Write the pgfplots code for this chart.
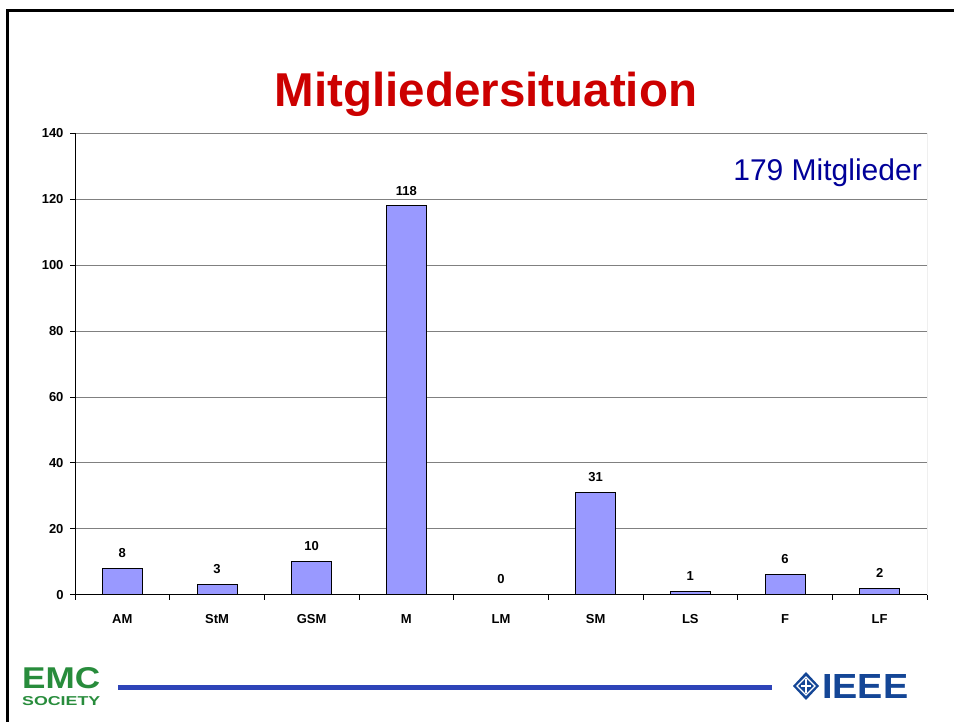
\documentclass[border=0pt]{standalone}
\usepackage{fontspec}
\setmainfont{Liberation Sans}
\usepackage{graphicx}
\usepackage{pgfplots}
\pgfplotsset{compat=1.18}
\definecolor{barfill}{RGB}{153,153,255}
\definecolor{titlered}{RGB}{204,0,0}
\definecolor{darkblue}{RGB}{0,0,153}
\definecolor{gridgray}{RGB}{128,128,128}
\definecolor{linkblue}{RGB}{46,68,184}
\definecolor{emcgreen}{RGB}{40,140,60}
\definecolor{ieeeblue}{RGB}{20,70,150}
\pgfplotstableread{
x y
0.5 8
1.5 3
2.5 10
3.5 118
4.5 0
5.5 31
6.5 1
7.5 6
8.5 2
}\members
\begin{document}
\begin{tikzpicture}[x=1bp,y=1bp]
\path[use as bounding box] (0,0) rectangle (954,722);
\draw[line width=3bp] (7.5,0) -- (7.5,711.5) -- (954,711.5);
\node[font=\fontsize{47.5bp}{52bp}\selectfont\bfseries, text=titlered, anchor=base] at (486,615) {Mitgliedersituation};
\begin{axis}[
  at={(75bp,127.4bp)}, anchor=south west, scale only axis,
  width=852bp, height=461.2bp,
  xmin=0, xmax=9, ymin=0, ymax=140,
  axis lines=left, axis line style={-, black},
  ytick={0,20,...,140},
  ymajorgrids, grid style={gridgray, line width=0.8bp},
  tick align=outside, major tick length=5bp,
  tick style={black, line width=0.8bp},
  xtick={0,1,...,9}, xticklabels={},
  extra x ticks={0.5,1.5,...,8.5},
  extra x tick labels={AM,StM,GSM,M,LM,SM,LS,F,LF},
  extra x tick style={major tick length=0pt, grid=none},
  ticklabel style={font=\fontsize{13bp}{15bp}\selectfont\bfseries},
  /pgf/number format/assume math mode=true,
  x tick label style={yshift=-16bp},
  y tick label style={xshift=-3bp},
  ybar, bar width=40bp,
  nodes near coords,
  every node near coord/.append style={font=\fontsize{13bp}{15bp}\selectfont\bfseries, black, yshift=7bp},
]
\addplot[draw=black, fill=barfill, line width=0.8bp] table[x=x,y=y] {\members};
\draw[gridgray, line width=0.8bp] (rel axis cs:1,0) -- (rel axis cs:1,1);
\draw[black, line width=0.8bp] (rel axis cs:0,0) -- (rel axis cs:1,0);
\end{axis}
\node[font=\fontsize{30bp}{34bp}\selectfont, text=darkblue, anchor=base east, inner sep=0pt] at (922,541) {179 Mitglieder};
\draw[linkblue, line width=5bp] (118,34) -- (772,34);
\node[anchor=north west, inner sep=0pt, text=emcgreen] at (22,55) {\resizebox{78bp}{21bp}{\bfseries EMC}};
\node[anchor=north west, inner sep=0pt, text=emcgreen] at (22,26) {\resizebox{78bp}{9bp}{\bfseries SOCIETY}};
\fill[ieeeblue] (806,50) -- (819,36) -- (806,22) -- (793,36) -- cycle;
\draw[white, line width=1.2bp] (806,45) -- (815,36) -- (806,27) -- (797,36) -- cycle;
\draw[white, line width=1.2bp] (806,43) -- (806,29) (801,36) -- (811,36);
\node[anchor=west, inner sep=0pt, text=ieeeblue] at (822,36) {\resizebox{86bp}{24bp}{\bfseries IEEE}};
\end{tikzpicture}
\end{document}
